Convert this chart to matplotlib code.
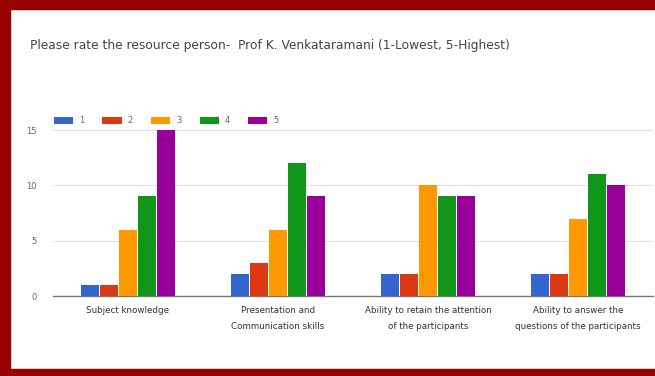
import matplotlib
matplotlib.use("Agg")
import matplotlib.pyplot as plt
from matplotlib.patches import Rectangle
import numpy as np

categories = ["Subject knowledge", "Presentation and\nCommunication skills",
              "Ability to retain the attention\nof the participants",
              "Ability to answer the\nquestions of the participants"]
series_names = ["1", "2", "3", "4", "5"]
r1 = [1, 2, 2, 2]
r2 = [1, 3, 2, 2]
r3 = [6, 6, 10, 7]
r4 = [9, 12, 9, 11]
r5 = [15, 9, 9, 10]
series = [r1, r2, r3, r4, r5]
colors = ["#3366cc", "#dc3912", "#ff9900", "#109618", "#990099"]
yticks = [0, 5, 10, 15]
title = "Please rate the resource person-  Prof K. Venkataramani (1-Lowest, 5-Highest)"

W, H = 655, 376
fig = plt.figure(figsize=(W / 100, H / 100), dpi=100)
fig.patch.set_facecolor("white")

ax = fig.add_axes([53 / W, (H - 296) / H, 600 / W, (296 - 130) / H])
x = np.arange(len(categories))
bw = 0.122
for i, (vals, c, n) in enumerate(zip(series, colors, series_names)):
    off = (i - 2) * (bw + 0.005)
    ax.bar(x + off, vals, width=bw, color=c, label=n, zorder=3)

ax.set_xlim(-0.5, 3.5)
ax.set_ylim(0, 15)
ax.set_yticks(yticks)
ax.set_yticklabels([str(v) for v in yticks], fontsize=6, color="#666666")
ax.set_xticks(x)
ax.set_xticklabels(categories, fontsize=6.3, color="#333333", linespacing=2.0)
ax.tick_params(axis="both", length=0)
ax.tick_params(axis="y", pad=12)
ax.tick_params(axis="x", pad=7)
for s in ["top", "right", "left"]:
    ax.spines[s].set_visible(False)
ax.spines["bottom"].set_color("#777777")
ax.spines["bottom"].set_linewidth(1.0)
ax.grid(axis="y", color="#e0e0e0", linewidth=0.8, zorder=0)
ax.set_facecolor("white")

leg = ax.legend(loc="lower left", bbox_to_anchor=(-0.007, 1.0), ncol=5, frameon=False,
                fontsize=6, handlelength=2.3, handleheight=0.9, columnspacing=2.2,
                handletextpad=0.7, borderaxespad=0.2, labelcolor="#666666")

fig.text(30 / W, 1 - 45 / H, title, fontsize=8.8, color="#444444", va="center", ha="left")

red = "#990000"
fig.patches.append(Rectangle((0, 1 - 9 / H), 1, 9 / H, transform=fig.transFigure, color=red, zorder=10))
fig.patches.append(Rectangle((0, 0), 10 / W, 1, transform=fig.transFigure, color=red, zorder=10))
fig.patches.append(Rectangle((0, 0), 1, 7 / H, transform=fig.transFigure, color=red, zorder=10))

fig.savefig("out.png", dpi=100)
